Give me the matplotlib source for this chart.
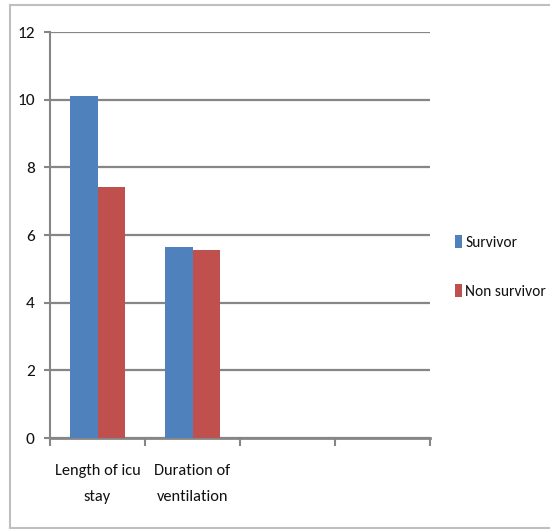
import matplotlib
matplotlib.use("Agg")
import matplotlib.pyplot as plt
from matplotlib.lines import Line2D
from matplotlib.patches import Patch
import numpy as np

categories = ["Length of icu\nstay", "Duration of\nventilation", "", ""]
survivor = [10.1, 5.65]
non_survivor = [7.42, 5.55]
series_names = ["Survivor", "Non survivor"]
yticks = [0, 2, 4, 6, 8, 10, 12]

blue = "#4F81BD"
red = "#C0504D"
grid_col = "#868686"

plt.rcParams["font.family"] = ["Carlito", "DejaVu Sans"]

W, H = 550, 529
fig = plt.figure(figsize=(W / 100, H / 100), dpi=100)

# chart-area border (left, top, bottom)
for xs, ys in [([10 / W, 10 / W], [1 - 5 / H, 1 - 528 / H]),
               ([10 / W, 1.0], [1 - 5 / H, 1 - 5 / H]),
               ([10 / W, 1.0], [1 - 528 / H, 1 - 528 / H])]:
    fig.add_artist(Line2D(xs, ys, color="#BFBFBF", lw=1.5, transform=fig.transFigure))

x0, x1 = 50, 430
y_top, y_bot = 32, 438
ax = fig.add_axes([x0 / W, 1 - y_bot / H, (x1 - x0) / W, (y_bot - y_top) / H])

n = len(categories)
bw = 1 / 3.5
idx = np.arange(len(survivor))
ax.bar(idx - bw / 2, survivor, width=bw, color=blue, zorder=3)
ax.bar(idx + bw / 2, non_survivor, width=bw, color=red, zorder=3)

ax.set_xlim(-0.5, n - 0.5)
ax.set_ylim(0, 12)
ax.set_yticks(yticks)
ax.set_yticklabels([str(t) for t in yticks], fontsize=12.5, color="#111111")
ax.yaxis.grid(True, color=grid_col, lw=1.6, zorder=0)
ax.set_axisbelow(True)

ax.set_xticks(np.arange(n + 1) - 0.5, minor=False)
ax.set_xticklabels([])
ax.set_xticks(np.arange(n), minor=True)
ax.set_xticklabels(categories, minor=True, fontsize=11.8, linespacing=2.05, color="#111111")
ax.tick_params(axis="x", which="minor", length=0, pad=19)
ax.tick_params(axis="x", which="major", length=6, width=1.5, color=grid_col, direction="out")
ax.tick_params(axis="y", length=4, width=1.5, color=grid_col, direction="out", pad=7)

for s in ["top", "right"]:
    ax.spines[s].set_visible(False)
ax.spines["left"].set_color(grid_col)
ax.spines["left"].set_linewidth(1.5)
ax.spines["bottom"].set_color(grid_col)
ax.spines["bottom"].set_linewidth(2)

handles = [Patch(facecolor=blue), Patch(facecolor=red)]
leg = fig.legend(handles, series_names, loc="center left",
                 bbox_to_anchor=(455 / W, 1 - 267 / H), frameon=False, fontsize=11.2,
                 handlelength=0.45, handleheight=0.85, handletextpad=0.2, labelspacing=2.2,
                 borderaxespad=0, borderpad=0)
for t in leg.get_texts():
    t.set_color("#111111")

fig.savefig("out.png", dpi=100, facecolor="white")
